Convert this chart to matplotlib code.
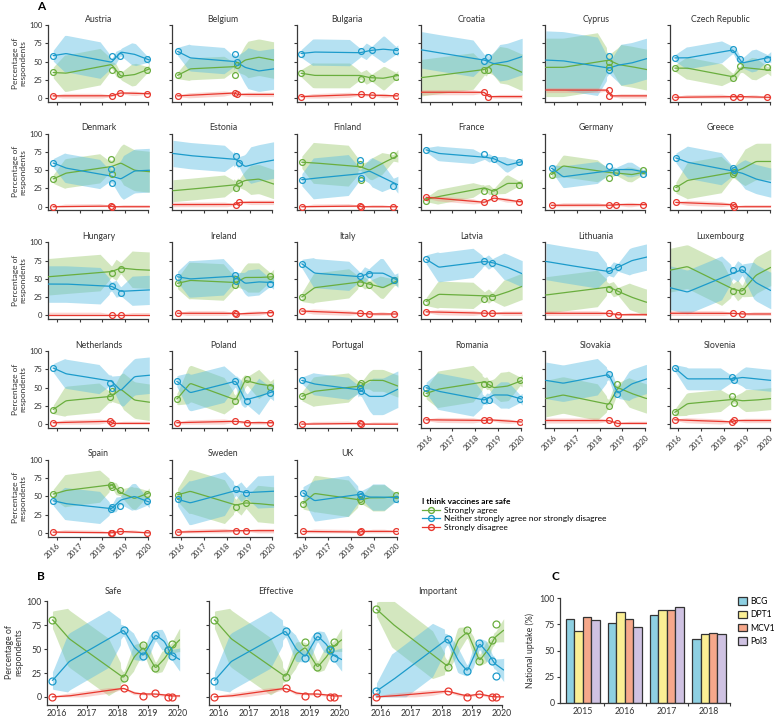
import numpy as np
import matplotlib
matplotlib.use("Agg")
import matplotlib.pyplot as plt
from matplotlib.lines import Line2D
from matplotlib.patches import Patch

plt.rcParams['font.family'] = ['Lato', 'DejaVu Sans']

# ---------------- Panel A data ----------------
countries = ["Austria", "Belgium", "Bulgaria", "Croatia", "Cyprus", "Czech Republic",
             "Denmark", "Estonia", "Finland", "France", "Germany", "Greece",
             "Hungary", "Ireland", "Italy", "Latvia", "Lithuania", "Luxembourg",
             "Netherlands", "Poland", "Portugal", "Romania", "Slovakia", "Slovenia",
             "Spain", "Sweden", "UK"]

survey_dates = {
    "Austria": [2015.85, 2018.4, 2018.78, 2019.95],
    "Belgium": [2015.85, 2018.38, 2018.43],
    "Bulgaria": [2015.82, 2018.43, 2018.9, 2019.96],
    "Croatia": [2018.4, 2018.57],
    "Cyprus": [2018.4, 2018.43],
    "Czech Republic": [2015.86, 2018.4, 2018.71, 2019.9],
    "Denmark": [2015.85, 2018.38, 2018.42],
    "Estonia": [2018.4, 2018.55],
    "Finland": [2015.85, 2018.38, 2018.42, 2019.85],
    "France": [2015.85, 2018.4, 2018.8, 2019.9],
    "Germany": [2015.9, 2018.4, 2018.72, 2019.9],
    "Greece": [2015.9, 2018.38, 2018.42],
    "Hungary": [2018.4, 2018.8],
    "Ireland": [2015.85, 2018.35, 2018.42, 2019.9],
    "Italy": [2015.85, 2018.4, 2018.78, 2019.9],
    "Latvia": [2015.85, 2018.4, 2018.75],
    "Lithuania": [2018.4, 2018.8],
    "Luxembourg": [2018.4, 2018.8],
    "Netherlands": [2015.85, 2018.35, 2018.42],
    "Poland": [2015.82, 2018.38, 2018.9, 2019.9],
    "Portugal": [2015.85, 2018.38, 2018.45],
    "Romania": [2015.85, 2018.4, 2018.6, 2019.95],
    "Slovakia": [2018.4, 2018.78],
    "Slovenia": [2015.85, 2018.35, 2018.45],
    "Spain": [2015.85, 2018.38, 2018.42, 2018.78, 2019.95],
    "Sweden": [2015.85, 2018.4, 2018.85],
    "UK": [2015.9, 2018.38, 2018.45, 2019.95],
}

agree_pts = {
    "Austria": [36, 38, 33, 38], "Belgium": [31, 32, 45], "Bulgaria": [34, 26, 27, 29],
    "Croatia": [38, 38], "Cyprus": [49, 43], "Czech Republic": [41, 27, 44, 42],
    "Denmark": [38, 65, 45], "Estonia": [26, 33], "Finland": [61, 58, 36, 71],
    "France": [8, 21, 20, 30], "Germany": [44, 40, 47, 51], "Greece": [26, 45, 48],
    "Hungary": [58, 64], "Ireland": [44, 42, 50, 54], "Italy": [25, 44, 42, 48],
    "Latvia": [19, 22, 25], "Lithuania": [36, 33], "Luxembourg": [34, 34],
    "Netherlands": [20, 37, 45], "Poland": [34, 32, 62, 51], "Portugal": [38, 53, 57],
    "Romania": [42, 55, 55, 60], "Slovakia": [25, 55], "Slovenia": [16, 38, 29],
    "Spain": [53, 66, 63, 59, 53], "Sweden": [52, 36, 41], "UK": [40, 46, 44, 52],
}

neutral_pts = {
    "Austria": [58, 57, 58, 54], "Belgium": [64, 61, 49], "Bulgaria": [61, 65, 66, 65],
    "Croatia": [51, 56], "Cyprus": [57, 38], "Czech Republic": [55, 67, 53, 54],
    "Denmark": [60, 52, 33], "Estonia": [69, 60], "Finland": [37, 64, 40, 29],
    "France": [78, 72, 65, 61], "Germany": [53, 56, 47, 45], "Greece": [67, 53, 50],
    "Hungary": [40, 31], "Ireland": [53, 55, 47, 43], "Italy": [71, 54, 57, 48],
    "Latvia": [77, 74, 72], "Lithuania": [62, 66], "Luxembourg": [62, 63],
    "Netherlands": [77, 56, 50], "Poland": [59, 59, 32, 42], "Portugal": [60, 49, 45],
    "Romania": [50, 33, 33, 34], "Slovakia": [69, 41], "Slovenia": [77, 65, 60],
    "Spain": [44, 33, 36, 37, 44], "Sweden": [46, 60, 54], "UK": [55, 53, 50, 46],
}

disagree_pts = {
    "Austria": [3, 3, 7, 6], "Belgium": [3, 7, 5], "Bulgaria": [2, 5, 4, 3],
    "Croatia": [8, 2], "Cyprus": [11, 3], "Czech Republic": [1, 2, 2, 1],
    "Denmark": [0, 1, 0], "Estonia": [3, 6], "Finland": [0, 1, 0, 0],
    "France": [13, 6, 12, 7], "Germany": [2, 2, 3, 3], "Greece": [6, 3, 0],
    "Hungary": [1, 1], "Ireland": [3, 3, 2, 4], "Italy": [6, 3, 2, 2],
    "Latvia": [5, 3, 3], "Lithuania": [3, 1], "Luxembourg": [3, 2],
    "Netherlands": [2, 4, 1], "Poland": [2, 4, 2, 2], "Portugal": [0, 1, 0],
    "Romania": [6, 5, 6, 3], "Slovakia": [5, 1], "Slovenia": [6, 3, 5],
    "Spain": [1, 0, 0, 2, 0], "Sweden": [1, 3, 3], "UK": [2, 1, 2, 2],
}

# smoothed fits at knots: start, 2016.4, 2018.4, 2018.8, 2019.4, 2020.05
agree_fit = {
    "Austria": [35, 34, 46, 30, 32, 40], "Belgium": [31, 40, 43, 52, 56, 52],
    "Bulgaria": [34, 31, 31, 28, 27, 31], "Croatia": [28, 31, 39, 47, 44, 35],
    "Cyprus": [42, 42, 52, 46, 43, 39], "Czech Republic": [41, 41, 29, 42, 40, 38],
    "Denmark": [38, 46, 55, 60, 50, 48], "Estonia": [22, 24, 30, 36, 38, 31],
    "Finland": [61, 60, 55, 50, 60, 70], "France": [10, 14, 26, 21, 32, 32],
    "Germany": [44, 56, 47, 46, 44, 48], "Greece": [26, 36, 47, 52, 62, 62],
    "Hungary": [53, 55, 60, 65, 63, 62], "Ireland": [44, 48, 45, 52, 52, 53],
    "Italy": [25, 38, 46, 43, 38, 48], "Latvia": [19, 29, 27, 26, 32, 40],
    "Lithuania": [28, 31, 39, 33, 25, 18], "Luxembourg": [62, 67, 36, 33, 55, 66],
    "Netherlands": [20, 32, 38, 48, 33, 30], "Poland": [34, 56, 33, 60, 55, 52],
    "Portugal": [38, 45, 52, 60, 60, 52], "Romania": [42, 48, 58, 50, 52, 60],
    "Slovakia": [35, 40, 27, 50, 42, 35], "Slovenia": [16, 28, 34, 32, 33, 35],
    "Spain": [53, 58, 66, 55, 47, 55], "Sweden": [52, 57, 38, 41, 40, 38],
    "UK": [40, 54, 45, 48, 48, 50],
}

neutral_fit = {
    "Austria": [58, 61, 49, 63, 60, 52], "Belgium": [64, 55, 50, 42, 37, 40],
    "Bulgaria": [61, 63, 62, 65, 67, 65], "Croatia": [66, 62, 52, 47, 50, 57],
    "Cyprus": [52, 51, 41, 45, 48, 54], "Czech Republic": [55, 55, 66, 48, 52, 56],
    "Denmark": [60, 53, 42, 38, 49, 50], "Estonia": [73, 70, 65, 55, 60, 64],
    "Finland": [37, 39, 45, 49, 40, 30], "France": [78, 73, 68, 66, 57, 62],
    "Germany": [53, 41, 49, 51, 51, 47], "Greece": [67, 61, 49, 46, 38, 33],
    "Hungary": [43, 43, 40, 33, 34, 35], "Ireland": [53, 50, 54, 44, 46, 45],
    "Italy": [71, 58, 53, 58, 58, 48], "Latvia": [77, 66, 74, 72, 66, 57],
    "Lithuania": [74, 70, 60, 66, 75, 80], "Luxembourg": [38, 32, 58, 63, 45, 34],
    "Netherlands": [77, 69, 59, 46, 65, 67], "Poland": [59, 43, 59, 33, 38, 45],
    "Portugal": [60, 55, 47, 38, 38, 48], "Romania": [50, 45, 33, 40, 40, 34],
    "Slovakia": [60, 56, 68, 42, 55, 62], "Slovenia": [77, 62, 62, 64, 62, 60],
    "Spain": [44, 40, 33, 45, 50, 42], "Sweden": [46, 41, 58, 55, 56, 57],
    "UK": [55, 44, 53, 49, 49, 48],
}

# uncertainty half-widths: agree (before 2018, after 2018), neutral (before, after)
band_widths = {
    "Austria": (25, 15, 25, 15), "Belgium": (15, 25, 18, 28), "Bulgaria": (17, 16, 18, 18),
    "Croatia": (25, 25, 25, 25), "Cyprus": (40, 28, 40, 28), "Czech Republic": (15, 15, 15, 15),
    "Denmark": (20, 28, 20, 30), "Estonia": (15, 20, 18, 25), "Finland": (28, 15, 28, 20),
    "France": (10, 12, 10, 10), "Germany": (15, 10, 15, 10), "Greece": (25, 25, 22, 20),
    "Hungary": (25, 25, 25, 20), "Ireland": (25, 20, 25, 18), "Italy": (20, 15, 20, 20),
    "Latvia": (18, 18, 20, 18), "Lithuania": (25, 18, 25, 18), "Luxembourg": (30, 25, 30, 25),
    "Netherlands": (20, 25, 20, 25), "Poland": (25, 20, 25, 25), "Portugal": (20, 15, 15, 25),
    "Romania": (25, 20, 25, 18), "Slovakia": (25, 20, 25, 20), "Slovenia": (15, 15, 15, 15),
    "Spain": (22, 15, 22, 18), "Sweden": (30, 25, 30, 22), "UK": (25, 18, 28, 18),
}
fit_knots_tail = [2016.4, 2018.4, 2018.8, 2019.4, 2020.05]

# ---------------- Panel B data ----------------
b_titles = ["Safe", "Effective", "Important"]
b_dates = [2015.85, 2018.2, 2018.85, 2019.25, 2019.68, 2019.78]
b_agree_pts = {"Safe": [81, 20, 54, 30, 49, 55],
               "Effective": [81, 21, 57, 31, 50, 58],
               "Important": [92, 31, 70, 38, 60, 76]}
b_neutral_pts = {"Safe": [17, 70, 43, 65, 49, 43],
                 "Effective": [17, 69, 41, 64, 49, 41],
                 "Important": [6, 61, 27, 56, 38, 22]}
b_disagree_pts = {"Safe": [0, 9, 1, 4, 0, 0],
                  "Effective": [0, 9, 1, 4, 0, 0],
                  "Important": [0, 6, 0, 3, 0, 0]}
b_knots = [2015.85, 2016.4, 2018.2, 2018.55, 2018.85, 2019.25, 2019.55, 2019.75, 2020.05]
b_agree_fit = {"Safe": [81, 61, 20, 42, 52, 30, 40, 50, 60],
               "Effective": [81, 61, 21, 45, 52, 31, 42, 52, 60],
               "Important": [92, 76, 32, 60, 68, 38, 50, 62, 70]}
b_neutral_fit = {"Safe": [17, 37, 70, 52, 43, 65, 58, 45, 39],
                 "Effective": [17, 37, 69, 50, 42, 64, 55, 44, 39],
                 "Important": [6, 18, 61, 38, 27, 56, 45, 35, 28]}
b_disagree_fit = {"Safe": [0, 1, 9, 4, 3, 3, 2, 1, 1],
                  "Effective": [0, 1, 9, 4, 3, 3, 2, 1, 1],
                  "Important": [0, 1, 6, 3, 1, 3, 1, 0, 0]}
b_band_widths = {"Safe": (30, 18, 30, 18), "Effective": (30, 18, 30, 18),
                 "Important": (25, 18, 28, 18)}

# ---------------- Panel C data ----------------
c_years = ["2015", "2016", "2017", "2018"]
c_vaccines = ["BCG", "DPT1", "MCV1", "Pol3"]
uptake_bcg = [80, 76, 84, 61]
uptake_dpt1 = [69, 87, 89, 66]
uptake_mcv1 = [82, 80, 89, 67]
uptake_pol3 = [79, 72, 91, 66]

# ---------------- styling ----------------
GREEN, BLUE, RED = "#6aae3e", "#1c9bcb", "#e8372e"
GREEN_F, BLUE_F, RED_F = "#9fcb72", "#5bbde3", "#f28a80"
SPINE = "#3a3a3a"
TXT = "#333333"
c_colors = ["#8ed0e2", "#fbef94", "#f6a88b", "#cfc2e2"]

W, H = 776, 720
fig = plt.figure(figsize=(W / 100, H / 100), dpi=100)


def add_ax(left, top, right, bottom):
    return fig.add_axes([left / W, 1 - bottom / H, (right - left) / W, (bottom - top) / H])


def smooth(y, k=13):
    pad = k // 2
    yp = np.pad(y, pad, mode="edge")
    return np.convolve(yp, np.ones(k) / k, mode="valid")


def half_width(xs, dates, w_early, w_late, split):
    d = np.min(np.abs(xs[:, None] - np.asarray(dates)[None, :]), axis=1)
    cap = np.where(xs < split, w_early, w_late)
    return cap * np.minimum(1.0, 0.3 + 1.4 * d)


def draw_series(ax, xs, fit, h, dates, pts, color, fcolor, ms, alpha=0.45):
    lo = np.clip(fit - h, 0, 100)
    hi = np.clip(fit + h, 0, 100)
    ax.fill_between(xs, lo, hi, color=fcolor, alpha=alpha, lw=0, zorder=1)
    ax.plot(xs, fit, color=color, lw=0.9, zorder=3)
    ax.plot(dates, pts, "o", mfc="none", mec=color, mew=0.9, ms=ms, zorder=4)


def style_axes(ax, xlim, ylim, xbounds, ybounds, lsize):
    ax.set_xlim(*xlim)
    ax.set_ylim(*ylim)
    for s in ["top", "right"]:
        ax.spines[s].set_visible(False)
    for s in ["left", "bottom"]:
        ax.spines[s].set_color(SPINE)
        ax.spines[s].set_linewidth(0.9)
    ax.spines["left"].set_bounds(*ybounds)
    ax.spines["bottom"].set_bounds(*xbounds)
    ax.tick_params(length=2.5, width=0.8, color=SPINE, labelsize=lsize, pad=1.5,
                   labelcolor=TXT)
    ax.set_facecolor("none")


years = [2016, 2017, 2018, 2019, 2020]
yticks = [0, 25, 50, 75, 100]

# ---------------- Panel A ----------------
XL = (2015.62, 2020.06)
for i, name in enumerate(countries):
    r, c = divmod(i, 6)
    left = 48 + 124.3 * c
    top = 24.3 + 108.7 * r
    ax = add_ax(left, top, left + 101.5, top + 77.4)
    dates = survey_dates[name]
    start = dates[0] if dates[0] < 2017 else 2015.65
    kn = [start] + fit_knots_tail
    xs = np.linspace(start, 2020.05, 400)
    wa1, wa2, wn1, wn2 = band_widths[name]
    g = smooth(np.interp(xs, kn, agree_fit[name]))
    b = smooth(np.interp(xs, kn, neutral_fit[name]))
    rr = smooth(np.interp(xs, dates, disagree_pts[name]))
    draw_series(ax, xs, g, half_width(xs, dates, wa1, wa2, 2018.3), dates, agree_pts[name],
                GREEN, GREEN_F, 4.2)
    draw_series(ax, xs, b, half_width(xs, dates, wn1, wn2, 2018.3), dates, neutral_pts[name],
                BLUE, BLUE_F, 4.2)
    draw_series(ax, xs, rr, half_width(xs, dates, 3.5, 3.0, 2018.3), dates, disagree_pts[name],
                RED, RED_F, 4.2, alpha=0.35)
    style_axes(ax, XL, (-5, 101), (XL[0], 2020), (-5, 100), 5.5)
    ax.set_xticks(years)
    ax.set_yticks(yticks)
    ax.set_title(name, fontsize=6.3, pad=2, color=TXT)
    if c == 0:
        ax.set_ylabel("Percentage of\nrespondents", fontsize=6, color=TXT, labelpad=2,
                      linespacing=1.1)
    else:
        ax.set_yticklabels([])
    bottom_panel = (r == 4) or (r == 3 and c >= 3)
    if bottom_panel:
        ax.set_xticklabels([str(y) for y in years], rotation=45, ha="right",
                           rotation_mode="anchor", fontsize=5.8)
    else:
        ax.set_xticklabels([])

leg_handles = [Line2D([0], [0], color=col, lw=0.9, marker="o", mfc="none", mec=col, ms=4.2)
               for col in (GREEN, BLUE, RED)]
fig.legend(leg_handles, ["Strongly agree", "Neither strongly agree nor strongly disagree",
                         "Strongly disagree"],
           loc="upper left", bbox_to_anchor=(422 / W, 1 - 498 / H), frameon=False,
           fontsize=6.0, title="I think vaccines are safe",
           title_fontproperties={"weight": "bold", "size": 6.0}, alignment="left",
           handlelength=2.2, handletextpad=0.4, labelspacing=0.2, borderpad=0,
           borderaxespad=0)

fig.text(37 / W, 1 - 6 / H, "A", fontsize=8.5, fontweight="bold", va="center", ha="left")

# ---------------- Panel B ----------------
XLB = (2015.67, 2020.07)
for j, t in enumerate(b_titles):
    left = 47 + 162 * j
    ax = add_ax(left, 600.5, left + 133.3, 704.5)
    xs = np.linspace(b_knots[0], b_knots[-1], 400)
    wa1, wa2, wn1, wn2 = b_band_widths[t]
    g = smooth(np.interp(xs, b_knots, b_agree_fit[t]), 9)
    b = smooth(np.interp(xs, b_knots, b_neutral_fit[t]), 9)
    rr = smooth(np.interp(xs, b_knots, b_disagree_fit[t]), 9)
    draw_series(ax, xs, g, half_width(xs, b_dates, wa1, wa2, 2018.1), b_dates,
                b_agree_pts[t], GREEN, GREEN_F, 5)
    draw_series(ax, xs, b, half_width(xs, b_dates, wn1, wn2, 2018.1), b_dates,
                b_neutral_pts[t], BLUE, BLUE_F, 5)
    draw_series(ax, xs, rr, half_width(xs, b_dates, 3.0, 2.5, 2018.1), b_dates,
                b_disagree_pts[t], RED, RED_F, 5, alpha=0.35)
    style_axes(ax, XLB, (-8, 101), (XLB[0], 2020), (-8, 100), 6.3)
    ax.tick_params(axis="x", pad=1)
    ax.set_xticks(years)
    ax.set_xticklabels([str(y) for y in years])
    ax.set_yticks(yticks)
    ax.set_title(t, fontsize=6.5, pad=5, color=TXT)
    if j == 0:
        ax.set_ylabel("Percentage of\nrespondents", fontsize=6.3, color=TXT, labelpad=2,
                      linespacing=1.1)
    else:
        ax.set_yticklabels([])

fig.text(37 / W, 1 - 577 / H, "B", fontsize=8.5, fontweight="bold", va="center", ha="left")

# ---------------- Panel C ----------------
axc = add_ax(560, 598, 730, 703)
xpos = np.arange(len(c_years))
bw = 0.2
for k, (vals, col) in enumerate(zip([uptake_bcg, uptake_dpt1, uptake_mcv1, uptake_pol3],
                                    c_colors)):
    axc.bar(xpos + (k - 1.5) * bw, vals, width=bw, color=col, edgecolor="#333333",
            linewidth=0.9, zorder=2)
style_axes(axc, (-0.54, 3.5), (0, 100), (-0.54, 3.5), (0, 100), 6.3)
axc.set_yticks(yticks)
axc.set_xticks([0.5, 1.5, 2.5, 3.5])
axc.set_xticklabels([])
axc.set_xticks(xpos, minor=True)
axc.set_xticklabels(c_years, minor=True)
axc.tick_params(axis="x", which="minor", length=0, labelsize=6.3, pad=3, labelcolor=TXT)
axc.set_ylabel("National uptake (%)", fontsize=6.3, color=TXT, labelpad=3)
fig.legend([Patch(facecolor=col, edgecolor="#333333", linewidth=0.9) for col in c_colors],
           c_vaccines, loc="upper left", bbox_to_anchor=(738 / W, 1 - 597 / H), frameon=False,
           fontsize=6.2, handlelength=1.1, handleheight=0.9, handletextpad=0.35,
           labelspacing=0.5, borderpad=0, borderaxespad=0)
fig.text(552 / W, 1 - 577 / H, "C", fontsize=8.5, fontweight="bold", va="center", ha="left")

fig.savefig("out.png", dpi=100)
